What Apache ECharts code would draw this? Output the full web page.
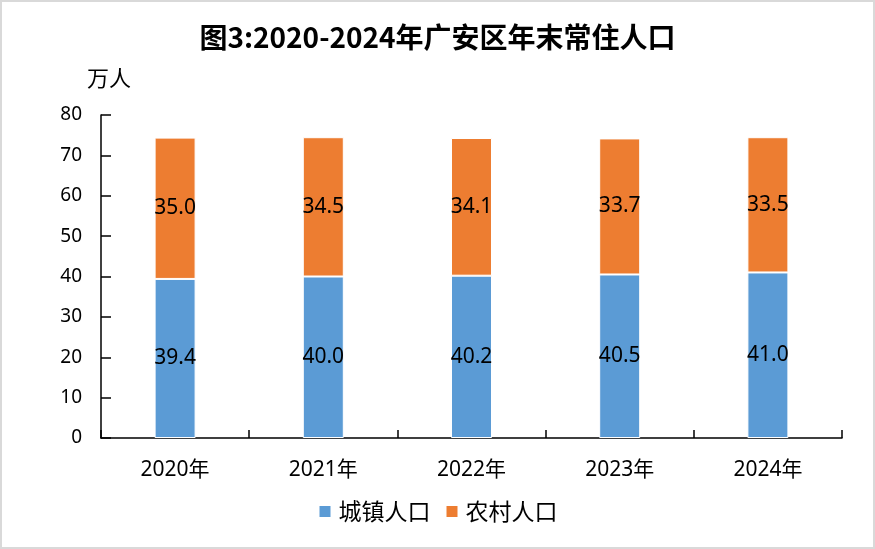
<!DOCTYPE html>
<html>
<head>
<meta charset="utf-8">
<script src="https://cdn.jsdelivr.net/npm/echarts@6/dist/echarts.min.js"></script>
<style>
html,body{margin:0;padding:0;background:#fff;}
#c{width:871px;height:545px;border:2px solid #d9d9d9;}
</style>
</head>
<body>
<div id="c"></div>
<script>
var categories = ['2020年','2021年','2022年','2023年','2024年'];
var urban = [39.4, 40.0, 40.2, 40.5, 41.0];
var rural = [35.0, 34.5, 34.1, 33.7, 33.5];
var yTicks = [0,10,20,30,40,50,60,70,80];

var cjk = '"Noto Sans CJK SC", "Noto Sans", sans-serif';
var font = '"Noto Sans", "Noto Sans CJK SC", sans-serif';
var chart = echarts.init(document.getElementById('c'));
chart.setOption({
  animation: false,
  textStyle: {fontFamily: font},
  title: {
    text: '图3:2020-2024年广安区年末常住人口',
    left: 'center', top: 16,
    textStyle: {fontFamily: cjk, fontSize: 28, fontWeight: 'bold', color: '#000'}
  },
  legend: {
    bottom: 19, left: 'center',
    itemWidth: 13, itemHeight: 13, itemGap: 14,
    icon: 'rect',
    textStyle: {fontSize: 23, color: '#000', fontFamily: cjk, padding: [0, 0, 0, 2]},
    data: ['城镇人口','农村人口']
  },
  grid: {left: 99, right: 31, top: 113, bottom: 109},
  xAxis: {
    type: 'category',
    data: categories,
    axisLine: {lineStyle: {color: '#000', width: 1.5}},
    axisTick: {show: true, inside: true, length: 8, alignWithLabel: false, lineStyle: {color: '#000', width: 1.5}},
    axisLabel: {fontSize: 21, color: '#000', margin: 22, fontFamily: font}
  },
  yAxis: {
    type: 'value',
    min: yTicks[0], max: yTicks[yTicks.length-1], interval: 10,
    name: '万人',
    nameLocation: 'end',
    nameGap: 26,
    nameTextStyle: {fontSize: 22, color: '#000', align: 'center', padding: [0, 0, 0, 16], fontFamily: cjk},
    axisLine: {show: true, lineStyle: {color: '#000', width: 1.5}},
    axisTick: {show: true, inside: true, length: 10, lineStyle: {color: '#000', width: 1.5}},
    splitLine: {show: false},
    axisLabel: {fontSize: 19, color: '#000', margin: 19, fontFamily: font}
  },
  series: [
    {
      name: '城镇人口', type: 'bar', stack: 'p', data: urban, barWidth: 41,
      itemStyle: {color: '#5b9bd5', borderColor: '#fff', borderWidth: 1},
      label: {show: true, position: 'inside', color: '#000', fontSize: 21, formatter: function(p){return p.value.toFixed(1);}, fontFamily: font}
    },
    {
      name: '农村人口', type: 'bar', stack: 'p', data: rural, barWidth: 41,
      itemStyle: {color: '#ed7d31', borderColor: '#fff', borderWidth: 1},
      label: {show: true, position: 'inside', color: '#000', fontSize: 21, formatter: function(p){return p.value.toFixed(1);}, fontFamily: font}
    }
  ]
});
</script>
</body>
</html>
